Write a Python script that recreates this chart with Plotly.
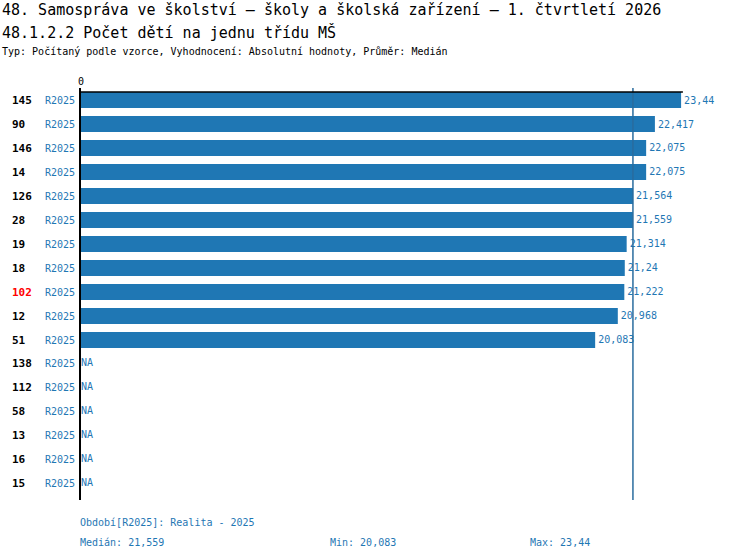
import plotly.graph_objects as go

# data
row_ids = ["145", "90", "146", "14", "126", "28", "19", "18", "102", "12", "51",
           "138", "112", "58", "13", "16", "15"]
periods = ["R2025"] * len(row_ids)
values = [23.44, 22.417, 22.075, 22.075, 21.564, 21.559, 21.314, 21.24, 21.222,
          20.968, 20.083, None, None, None, None, None, None]
highlight = "102"
median_val = 21.559
min_val = 20.083
max_val = 23.44

title1 = "48. Samospráva ve školství – školy a školská zařízení – 1. čtvrtletí 2026"
title2 = "48.1.2.2 Počet dětí na jednu třídu MŠ"
subtitle = "Typ: Počítaný podle vzorce, Vyhodnocení: Absolutní hodnoty, Průměr: Medián"
period_note = "Období[R2025]: Realita - 2025"

BLUE = "#1f77b4"
FONT = "DejaVu Sans Mono"


def fmt(v):
    return str(v).replace(".", ",")


idx = list(range(len(row_ids)))
bar_idx = [i for i, v in zip(idx, values) if v is not None]
bar_vals = [v for v in values if v is not None]
na_idx = [i for i, v in zip(idx, values) if v is None]

fig = go.Figure()
fig.add_bar(
    y=bar_idx, x=bar_vals, orientation="h",
    marker=dict(color=BLUE, line=dict(width=0)),
    width=0.667,
    text=[fmt(v) for v in bar_vals], textposition="outside",
    textfont=dict(family=FONT, size=10, color=BLUE),
    cliponaxis=False, hoverinfo="skip",
)
fig.add_scatter(
    y=na_idx, x=[0] * len(na_idx), mode="text",
    text=["NA"] * len(na_idx), textposition="middle right",
    textfont=dict(family=FONT, size=10, color=BLUE),
    hoverinfo="skip", cliponaxis=False,
)

# median line and top rule
fig.add_shape(type="line", xref="x", yref="paper", x0=median_val, x1=median_val,
              y0=0, y1=1, line=dict(color="#2a6c9e", width=1.5))
fig.add_shape(type="line", xref="x", yref="y", x0=0, x1=max_val * 1.003,
              y0=-0.333, y1=-0.333, line=dict(color="black", width=1.5))

ann = []
for i, rid in enumerate(row_ids):
    ann.append(dict(xref="paper", yref="y", x=0, xshift=-71, y=i, xanchor="left",
                    text="<b>%s</b>" % rid, showarrow=False,
                    font=dict(family=FONT, size=11,
                              color="#ff0000" if rid == highlight else "black")))

ann += [
    dict(xref="paper", yref="paper", x=0, xshift=-81, y=1, yshift=78, xanchor="left",
         yanchor="middle", text=title1, showarrow=False,
         font=dict(family=FONT, size=15, color="black")),
    dict(xref="paper", yref="paper", x=0, xshift=-81, y=1, yshift=56, xanchor="left",
         yanchor="middle", text=title2, showarrow=False,
         font=dict(family=FONT, size=15, color="black")),
    dict(xref="paper", yref="paper", x=0, xshift=-81, y=1, yshift=37, xanchor="left",
         yanchor="middle", text=subtitle, showarrow=False,
         font=dict(family=FONT, size=10, color="black")),
    dict(xref="paper", yref="paper", x=0, xshift=-3, y=0, yshift=-22, xanchor="left",
         yanchor="middle", text=period_note, showarrow=False,
         font=dict(family=FONT, size=10, color=BLUE)),
    dict(xref="paper", yref="paper", x=0, xshift=-3, y=0, yshift=-42, xanchor="left",
         yanchor="middle", text="Medián: " + fmt(median_val), showarrow=False,
         font=dict(family=FONT, size=10, color=BLUE)),
    dict(xref="paper", yref="paper", x=0, xshift=247, y=0, yshift=-42, xanchor="left",
         yanchor="middle", text="Min: " + fmt(min_val), showarrow=False,
         font=dict(family=FONT, size=10, color=BLUE)),
    dict(xref="paper", yref="paper", x=0, xshift=447, y=0, yshift=-42, xanchor="left",
         yanchor="middle", text="Max: " + fmt(max_val), showarrow=False,
         font=dict(family=FONT, size=10, color=BLUE)),
]

fig.update_layout(
    width=750, height=560,
    margin=dict(l=81, r=20, t=88, b=60),
    paper_bgcolor="white", plot_bgcolor="white",
    showlegend=False, bargap=0.333,
    separators=", ",
    font=dict(family=FONT, size=10, color="black"),
    annotations=ann,
    xaxis=dict(side="top", range=[0, 25.35], tickvals=[0], ticktext=["0"],
               ticks="", showgrid=False, zeroline=False, showline=False,
               tickfont=dict(family=FONT, size=10, color="black")),
    yaxis=dict(range=[16.667, -0.5], tickvals=idx, ticktext=periods,
               showgrid=False, zeroline=False, showline=True, linecolor="black",
               linewidth=2, ticks="", ticklabelstandoff=2,
               tickfont=dict(family=FONT, size=10, color=BLUE)),
)

# page has a default 8px body margin; drop it so the figure sits at the corner
fig.write_html("out.html", config={"displayModeBar": False},
               post_script="document.body.style.margin='0';")
